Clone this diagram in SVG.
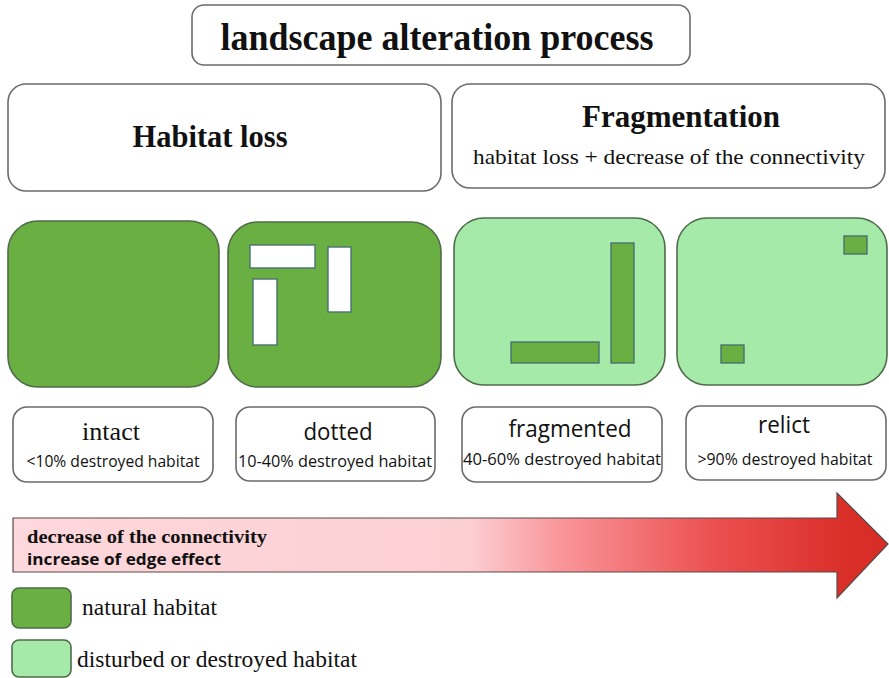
<svg xmlns="http://www.w3.org/2000/svg" width="889" height="678" viewBox="0 0 889 678">
  <style>
    .box { fill: #ffffff; stroke: #6b6b6b; stroke-width: 1.6; }
    .nat { fill: #6aaf42; stroke: #4f6b4a; stroke-width: 1.6; }
    .dis { fill: #a5eaa8; stroke: #4f6b4a; stroke-width: 1.6; }
    .hole { fill: #ffffff; stroke: #4a7370; stroke-width: 1.4; }
    .patch { fill: #6aaf42; stroke: #4a7370; stroke-width: 1.4; }
    .serifB { font-family: "Liberation Serif", "Times New Roman", serif; font-weight: bold; fill: #111; }
    .serif { font-family: "Liberation Serif", "Times New Roman", serif; fill: #111; }
    .sans { font-family: "Open Sans", "Liberation Sans", sans-serif; fill: #111; }
  </style>
  <defs>
    <linearGradient id="redFade" x1="12" y1="0" x2="889" y2="0" gradientUnits="userSpaceOnUse">
      <stop offset="0" stop-color="#fdd8dc"/>
      <stop offset="0.52" stop-color="#fccfd3"/>
      <stop offset="0.63" stop-color="#f99498"/>
      <stop offset="0.8" stop-color="#ec5050"/>
      <stop offset="0.95" stop-color="#da2f29"/>
      <stop offset="1" stop-color="#d82b26"/>
    </linearGradient>
  </defs>

  <!-- Title -->
  <g id="title">
    <rect class="box" x="192" y="5" width="498" height="60" rx="12"/>
    <text class="serifB" x="437" y="50" font-size="38" text-anchor="middle" textLength="433" lengthAdjust="spacingAndGlyphs">landscape alteration process</text>
  </g>

  <!-- Category headers -->
  <g id="habitat-loss">
    <rect class="box" x="8" y="84" width="433" height="107" rx="18"/>
    <text class="serifB" x="210" y="147" font-size="32" text-anchor="middle" textLength="155" lengthAdjust="spacingAndGlyphs">Habitat loss</text>
  </g>
  <g id="fragmentation">
    <rect class="box" x="452" y="84" width="433" height="104" rx="18"/>
    <text class="serifB" x="681" y="127" font-size="31" text-anchor="middle" textLength="198" lengthAdjust="spacingAndGlyphs">Fragmentation</text>
    <text class="serif" x="669" y="164" font-size="21" text-anchor="middle" textLength="392" lengthAdjust="spacingAndGlyphs">habitat loss + decrease of the connectivity</text>
  </g>

  <!-- Landscape panels -->
  <g id="panel-intact">
    <rect class="nat" x="8" y="221" width="211" height="166" rx="30"/>
  </g>
  <g id="panel-dotted">
    <rect class="nat" x="228" y="222" width="213" height="165" rx="30"/>
    <rect class="hole" x="250" y="245" width="65" height="23"/>
    <rect class="hole" x="328" y="247" width="23" height="65"/>
    <rect class="hole" x="253" y="279" width="24" height="66"/>
  </g>
  <g id="panel-fragmented">
    <rect class="dis" x="454" y="218" width="211" height="167" rx="30"/>
    <rect class="patch" x="611" y="243" width="23" height="120"/>
    <rect class="patch" x="511" y="342" width="88" height="21"/>
  </g>
  <g id="panel-relict">
    <rect class="dis" x="677" y="218" width="210" height="167" rx="30"/>
    <rect class="patch" x="844" y="236" width="23" height="18"/>
    <rect class="patch" x="721" y="345" width="23" height="18"/>
  </g>

  <!-- State labels -->
  <g id="label-intact">
    <rect class="box" x="13" y="407" width="200" height="75" rx="14"/>
    <text class="serif" x="111" y="440" font-size="25" text-anchor="middle" textLength="58" lengthAdjust="spacingAndGlyphs">intact</text>
    <text class="sans" x="113" y="467" font-size="16" text-anchor="middle" textLength="173" lengthAdjust="spacingAndGlyphs">&lt;10% destroyed habitat</text>
  </g>
  <g id="label-dotted">
    <rect class="box" x="236" y="407" width="199" height="74" rx="14"/>
    <text class="sans" x="338" y="440" font-size="24" text-anchor="middle" textLength="69" lengthAdjust="spacingAndGlyphs">dotted</text>
    <text class="sans" x="335" y="467" font-size="16" text-anchor="middle" textLength="194" lengthAdjust="spacingAndGlyphs">10-40% destroyed habitat</text>
  </g>
  <g id="label-fragmented">
    <rect class="box" x="462" y="407" width="200" height="75" rx="14"/>
    <text class="sans" x="570" y="437" font-size="24" text-anchor="middle" textLength="123" lengthAdjust="spacingAndGlyphs">fragmented</text>
    <text class="sans" x="562" y="465" font-size="16" text-anchor="middle" textLength="198" lengthAdjust="spacingAndGlyphs">40-60% destroyed habitat</text>
  </g>
  <g id="label-relict">
    <rect class="box" x="686" y="406" width="200" height="74" rx="14"/>
    <text class="sans" x="784" y="433" font-size="24" text-anchor="middle" textLength="52" lengthAdjust="spacingAndGlyphs">relict</text>
    <text class="sans" x="785" y="465" font-size="16" text-anchor="middle" textLength="175" lengthAdjust="spacingAndGlyphs">&gt;90% destroyed habitat</text>
  </g>

  <!-- Trend arrow -->
  <g id="trend-arrow">
    <path d="M13 518 H837 V493 L888 544 L837 598 V572 H13 Z" fill="url(#redFade)" stroke="#5a4a4a" stroke-width="1.2"/>
    <text class="serifB" x="27" y="543" font-size="18" textLength="240" lengthAdjust="spacingAndGlyphs">decrease of the connectivity</text>
    <text class="sans" x="27" y="565" font-size="16" font-weight="bold" textLength="194" lengthAdjust="spacingAndGlyphs">increase of edge effect</text>
  </g>

  <!-- Legend -->
  <g id="legend-natural">
    <rect class="nat" x="12" y="588" width="59" height="40" rx="7"/>
    <text class="serif" x="82" y="615" font-size="24" textLength="135" lengthAdjust="spacingAndGlyphs">natural habitat</text>
  </g>
  <g id="legend-disturbed">
    <rect class="dis" x="12" y="640" width="59" height="37" rx="7"/>
    <text class="serif" x="77" y="667" font-size="24" textLength="280" lengthAdjust="spacingAndGlyphs">disturbed or destroyed habitat</text>
  </g>
</svg>
